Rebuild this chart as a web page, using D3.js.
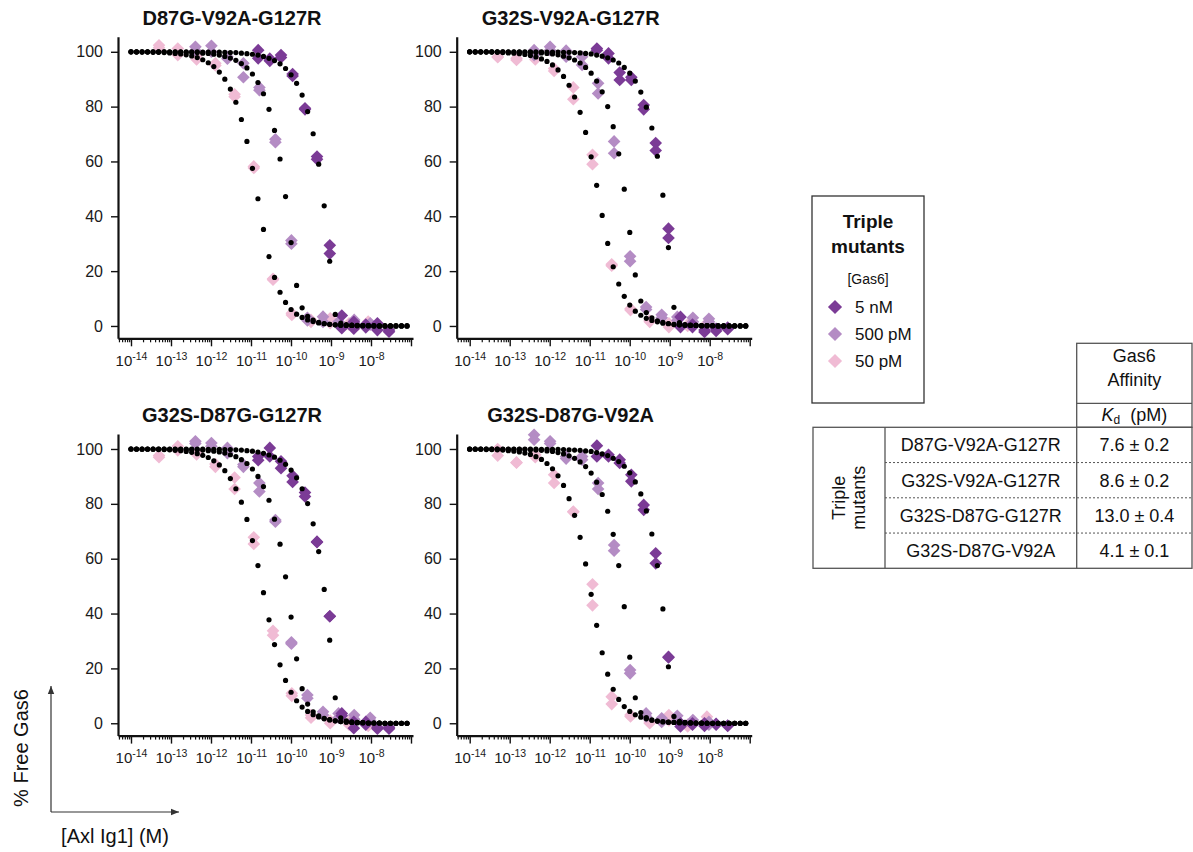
<!DOCTYPE html>
<html>
<head>
<meta charset="utf-8">
<script src="https://cdn.jsdelivr.net/npm/d3@7"></script>
<style>
  body { margin: 0; background: #fff; }
  svg { font-family: 'Liberation Sans', Arial, sans-serif; }
</style>
</head>
<body>
<svg id="chart" width="1193" height="852"></svg>
<script>
// names and table values
const mutants = ['D87G-V92A-G127R', 'G32S-V92A-G127R', 'G32S-D87G-G127R', 'G32S-D87G-V92A']
const kdValues = ['7.6 ± 0.2', '8.6 ± 0.2', '13.0 ± 0.4', '4.1 ± 0.1']
const concLabels = ['5 nM', '500 pM', '50 pM']
const concColors = ['#7b3b96', '#b48cc4', '#f0bbd4']
const xTickExps = [-14, -13, -12, -11, -10, -9, -8]
const yTicks = [0, 20, 40, 60, 80, 100]

// titration points, log10 [Axl Ig1] (M)
const xExp5nM = [-10.82, -10.53, -10.25, -9.96, -9.65, -9.35, -9.03, -8.73, -8.43, -8.13, -7.84, -7.55]
const xExp500pM = [-12.39, -11.99, -11.59, -11.19, -10.79, -10.39, -9.99, -9.59, -9.20, -8.81, -8.42, -8.02]
const xExp50pM = [-13.30, -12.83, -12.36, -11.89, -11.41, -10.93, -10.45, -9.98, -9.50, -9.02, -8.55, -8.07]

// fitted curve sample points (same x for every curve)
const fitExp = [-14, -13.862, -13.724, -13.586, -13.448, -13.31, -13.172, -13.034, -12.896, -12.758,
  -12.62, -12.482, -12.344, -12.206, -12.068, -11.93, -11.792, -11.654, -11.516, -11.378,
  -11.24, -11.102, -10.964, -10.826, -10.688, -10.55, -10.412, -10.274, -10.136, -9.998,
  -9.86, -9.722, -9.584, -9.446, -9.308, -9.17, -9.032, -8.894, -8.756, -8.618,
  -8.48, -8.342, -8.204, -8.066, -7.928, -7.79, -7.652, -7.514, -7.376, -7.238, -7.1]

// D87G-V92A-G127R
const m1Pts5nM = [[100.6, 97.6], [96.7, 97.5], [98.8, 97.9], [91.9, 91.2], [79.4, 79.0], [61.8, 60.8],
  [29.4, 26.4], [3.8, -0.8], [1.5, -1.0], [0.5, -0.5], [1.0, -1.5], [-2.1, -1.5]]
const m1Pts500pM = [[101.8, 100.5], [102.2, 100.0], [98.2, 97.5], [95.8, 90.7], [87.0, 86.0], [68.1, 67.0],
  [31.2, 30.0], [3.0, 2.0], [3.4, 1.5], [1.5, 0.5], [2.2, 1.0], [1.0, 0.5]]
const m1Pts50pM = [[102.4, 101.5], [101.2, 98.8], [97.2, 98.5], [95.8, 95.0], [84.5, 83.6], [57.6, 58.2],
  [16.9, 17.2], [4.6, 4.0], [2.2, 1.5], [2.8, 1.0], [1.0, 0.5], [1.6, 0.8]]
const m1Fit5nM = [100, 100, 100, 100, 100, 100, 100, 100, 100, 100, 100, 100, 100, 99.9, 99.9, 99.9, 99.9,
  99.8, 99.7, 99.7, 99.5, 99.3, 99.1, 98.8, 98.3, 97.6, 96.8, 95.6, 93.9, 91.6, 88.5, 84.2, 78.2, 70.1,
  59.0, 43.8, 23.6, 4.2, 1.0, 0.5, 0.3, 0.2, 0.1, 0.1, 0.1, 0, 0, 0, 0, 0, 0]
const m1Fit500pM = [100, 100, 100, 100, 100, 100, 100, 99.9, 99.9, 99.9, 99.8, 99.8, 99.7, 99.5, 99.4, 99.1,
  98.8, 98.3, 97.7, 96.9, 95.7, 94.1, 91.9, 88.8, 84.7, 79.0, 71.3, 60.9, 47.2, 30.4, 14.8, 6.6, 3.5, 2.1,
  1.3, 0.9, 0.6, 0.4, 0.3, 0.2, 0.2, 0.1, 0.1, 0.1, 0, 0, 0, 0, 0, 0, 0]
const m1Fit50pM = [100, 99.9, 99.9, 99.9, 99.8, 99.8, 99.7, 99.6, 99.4, 99.2, 98.9, 98.5, 97.9, 97.1, 96.0,
  94.6, 92.6, 90.0, 86.4, 81.6, 75.3, 67.3, 57.5, 46.4, 35.2, 25.3, 17.7, 12.3, 8.6, 6.0, 4.3, 3.1, 2.2,
  1.6, 1.1, 0.8, 0.6, 0.4, 0.3, 0.2, 0.2, 0.1, 0.1, 0.1, 0, 0, 0, 0, 0, 0, 0]

// G32S-V92A-G127R
const m2Pts5nM = [[101.2, 100.6], [99.4, 97.6], [92.4, 89.7], [90.7, 89.7], [80.6, 79.0], [66.7, 64.0],
  [35.5, 32.1], [3.3, -0.4], [-0.4, 0.5], [-2.2, -1.5], [-1.8, -1.0], [-1.2, -0.6]]
const m2Pts500pM = [[100.6, 98.8], [101.8, 100.6], [100.4, 98.2], [98.2, 95.2], [88.5, 84.8], [67.3, 63.0],
  [25.4, 23.6], [6.9, 6.0], [4.1, 3.0], [3.3, 2.0], [3.0, 1.5], [2.6, 1.5]]
const m2Pts50pM = [[98.2, 98.0], [97.6, 97.0], [99.4, 97.2], [93.9, 93.0], [87.0, 82.7], [62.4, 59.0],
  [22.5, 22.0], [6.3, 5.8], [1.5, 2.0], [1.0, -0.4], [0.5, 0.0], [1.0, 0.5]]
const m2Fit5nM = [100, 100, 100, 100, 100, 100, 100, 100, 100, 100, 100, 100, 100, 100, 99.9, 99.9, 99.9,
  99.8, 99.8, 99.7, 99.6, 99.4, 99.2, 98.8, 98.4, 97.8, 97.0, 95.9, 94.3, 92.2, 89.3, 85.3, 79.8, 72.2,
  61.9, 47.7, 28.6, 6.8, 1.2, 0.5, 0.3, 0.2, 0.1, 0.1, 0.1, 0, 0, 0, 0, 0, 0]
const m2Fit500pM = [100, 100, 100, 100, 100, 100, 100, 99.9, 99.9, 99.9, 99.8, 99.8, 99.7, 99.6, 99.4, 99.2,
  98.9, 98.4, 97.8, 97.0, 95.9, 94.3, 92.2, 89.3, 85.4, 80.0, 72.7, 62.8, 49.9, 34.1, 18.6, 9.1, 4.9, 3.0,
  1.9, 1.3, 0.9, 0.6, 0.4, 0.3, 0.2, 0.2, 0.1, 0.1, 0.1, 0, 0, 0, 0, 0, 0]
const m2Fit50pM = [100, 99.9, 99.9, 99.9, 99.9, 99.8, 99.7, 99.6, 99.5, 99.3, 99.0, 98.6, 98.1, 97.4, 96.5,
  95.2, 93.4, 91.0, 87.8, 83.5, 77.9, 70.6, 61.7, 51.3, 40.3, 30.1, 21.6, 15.3, 10.8, 7.6, 5.4, 3.9, 2.8,
  2.0, 1.5, 1.0, 0.8, 0.5, 0.4, 0.3, 0.2, 0.2, 0.1, 0.1, 0.1, 0, 0, 0, 0, 0, 0]

// G32S-D87G-G127R
const m3Pts5nM = [[97.3, 95.9], [100.4, 97.3], [95.5, 93.0], [90.2, 88.0], [84.1, 82.7], [66.2, 66.0],
  [39.0, 39.0], [3.6, 2.7], [-1.8, 0.5], [0.5, -0.5], [-1.5, -2.0], [-2.0, -1.5]]
const m3Pts500pM = [[102.8, 102.0], [102.2, 101.0], [100.4, 98.5], [94.3, 93.5], [87.6, 84.5], [74.1, 73.5],
  [29.5, 29.0], [10.3, 9.1], [4.2, 3.0], [3.6, 2.0], [3.0, 1.5], [2.0, 1.0]]
const m3Pts50pM = [[97.6, 97.0], [101.0, 99.5], [98.5, 98.0], [94.5, 93.5], [89.6, 85.4], [67.8, 65.4],
  [33.7, 32.1], [10.9, 10.0], [3.0, 2.0], [0.0, 1.0], [-0.5, 0.5], [0.5, -1.0]]
const m3Fit5nM = [100, 100, 100, 100, 100, 100, 100, 100, 100, 100, 100, 100, 100, 100, 99.9, 99.9, 99.9,
  99.8, 99.8, 99.7, 99.6, 99.4, 99.2, 98.9, 98.4, 97.8, 97.0, 95.9, 94.4, 92.3, 89.5, 85.5, 80.1, 72.7,
  62.6, 48.8, 30.3, 9.3, 2.0, 0.9, 0.5, 0.3, 0.2, 0.1, 0.1, 0.1, 0, 0, 0, 0, 0]
const m3Fit500pM = [100, 100, 100, 100, 100, 100, 100, 99.9, 99.9, 99.9, 99.8, 99.8, 99.7, 99.6, 99.4, 99.2,
  98.9, 98.5, 97.9, 97.2, 96.1, 94.7, 92.7, 90.0, 86.3, 81.3, 74.4, 65.3, 53.4, 38.7, 23.5, 12.6, 7.0, 4.2,
  2.7, 1.8, 1.3, 0.9, 0.6, 0.4, 0.3, 0.2, 0.2, 0.1, 0.1, 0.1, 0, 0, 0, 0, 0]
const m3Fit50pM = [100, 99.9, 99.9, 99.9, 99.9, 99.8, 99.8, 99.7, 99.5, 99.4, 99.1, 98.8, 98.3, 97.7, 96.9,
  95.7, 94.2, 92.1, 89.2, 85.5, 80.6, 74.3, 66.6, 57.5, 47.6, 37.7, 28.7, 21.3, 15.6, 11.3, 8.2, 5.9, 4.3,
  3.1, 2.3, 1.6, 1.2, 0.9, 0.6, 0.5, 0.3, 0.2, 0.2, 0.1, 0.1, 0.1, 0, 0, 0, 0, 0]

// G32S-D87G-V92A
const m4Pts5nM = [[101.2, 97.3], [97.9, 97.3], [96.1, 94.9], [90.6, 88.2], [79.6, 77.8], [62.0, 58.3],
  [24.2, 24.0], [0.0, -1.2], [0.0, -0.5], [0.0, -1.0], [-0.2, -0.5], [-0.8, -1.0]]
const m4Pts500pM = [[105.2, 103.4], [102.8, 102.0], [97.3, 96.5], [97.3, 96.1], [87.6, 85.4], [65.0, 62.9],
  [19.4, 18.2], [3.6, 2.5], [1.8, 0.5], [2.7, 1.0], [1.2, 0.0], [0.5, -0.5]]
const m4Pts50pM = [[100.0, 97.6], [95.1, 95.0], [97.9, 97.0], [90.6, 87.6], [77.2, 77.0], [50.7, 43.0],
  [9.7, 7.0], [3.0, 2.5], [0.0, 0.5], [3.0, 1.0], [-1.2, -0.5], [2.4, 1.0]]
const m4Fit5nM = [100, 100, 100, 100, 100, 100, 100, 100, 100, 100, 100, 100, 100, 99.9, 99.9, 99.9, 99.9,
  99.8, 99.7, 99.6, 99.5, 99.3, 99.1, 98.7, 98.2, 97.6, 96.6, 95.4, 93.7, 91.3, 88.0, 83.6, 77.4, 69.0,
  57.5, 41.7, 20.6, 2.5, 0.7, 0.3, 0.2, 0.1, 0.1, 0.1, 0, 0, 0, 0, 0, 0, 0]
const m4Fit500pM = [100, 100, 100, 100, 100, 100, 99.9, 99.9, 99.9, 99.9, 99.8, 99.7, 99.6, 99.5, 99.3, 99.1,
  98.7, 98.2, 97.5, 96.6, 95.3, 93.6, 91.2, 87.9, 83.4, 77.3, 68.9, 57.5, 42.5, 24.1, 9.3, 3.9, 2.1, 1.2,
  0.8, 0.5, 0.4, 0.3, 0.2, 0.1, 0.1, 0.1, 0, 0, 0, 0, 0, 0, 0, 0, 0]
const m4Fit50pM = [99.9, 99.9, 99.9, 99.8, 99.8, 99.7, 99.6, 99.4, 99.2, 98.9, 98.5, 98.0, 97.2, 96.2, 94.7,
  92.8, 90.2, 86.7, 81.9, 75.8, 67.8, 58.1, 47.0, 35.7, 25.7, 17.9, 12.4, 8.7, 6.1, 4.3, 3.1, 2.2, 1.6,
  1.1, 0.8, 0.6, 0.4, 0.3, 0.2, 0.2, 0.1, 0.1, 0.1, 0, 0, 0, 0, 0, 0, 0, 0]

const svg = d3.select('#chart')

const plotWidth = 295
const panels = [
  { title: mutants[0], left: 118, top: 36.7, bottom: 338.3, pts: [m1Pts5nM, m1Pts500pM, m1Pts50pM], fits: [m1Fit5nM, m1Fit500pM, m1Fit50pM] },
  { title: mutants[1], left: 456.7, top: 36.7, bottom: 338.3, pts: [m2Pts5nM, m2Pts500pM, m2Pts50pM], fits: [m2Fit5nM, m2Fit500pM, m2Fit50pM] },
  { title: mutants[2], left: 118, top: 433.9, bottom: 735.6, pts: [m3Pts5nM, m3Pts500pM, m3Pts50pM], fits: [m3Fit5nM, m3Fit500pM, m3Fit50pM] },
  { title: mutants[3], left: 456.7, top: 433.9, bottom: 735.6, pts: [m4Pts5nM, m4Pts500pM, m4Pts50pM], fits: [m4Fit5nM, m4Fit500pM, m4Fit50pM] }
]
const ptsExps = [xExp5nM, xExp500pM, xExp50pM]

panels.forEach(drawPanel)

function drawPanel(p) {
  const x = d3.scaleLog()
    .domain([Math.pow(10, -14.325), Math.pow(10, -6.95)])
    .range([p.left, p.left + plotWidth])
  const y = d3.scaleLinear()
    .domain([-4.5, 105.5])
    .range([p.bottom, p.top])

  const g = svg.append('g')

  // minor ticks
  const minorTicks = []
  d3.range(-15, -7).forEach(e => {
    d3.range(2, 10).forEach(m => {
      const v = m * Math.pow(10, e)
      if (v >= x.domain()[0] && v <= x.domain()[1]) minorTicks.push(v)
    })
  })

  g.append('g')
    .attr('transform', 'translate(0,' + p.bottom + ')')
    .call(d3.axisBottom(x).tickValues(minorTicks).tickSize(4).tickSizeOuter(0).tickFormat(''))
    .call(a => a.select('.domain').remove())
    .selectAll('line').attr('stroke', '#111').attr('stroke-width', 1.2)

  const majors = xTickExps.map(e => Math.pow(10, e)).concat([1e-7])
  const gx = g.append('g')
    .attr('transform', 'translate(0,' + p.bottom + ')')
    .call(d3.axisBottom(x).tickValues(majors).tickSize(8).tickSizeOuter(0).tickPadding(9).tickFormat(''))
  gx.select('.domain').attr('stroke', '#111').attr('stroke-width', 2.2)
  gx.selectAll('.tick line').attr('stroke', '#111').attr('stroke-width', 1.4)
  gx.selectAll('.tick text').each(function(d) {
    const e = Math.round(Math.log10(d))
    const t = d3.select(this)
    t.attr('font-size', 15).attr('fill', '#1a1a1a').attr('font-family', 'Liberation Sans, Arial, sans-serif')
    if (!xTickExps.includes(e)) return
    t.append('tspan').text('10')
    t.append('tspan').attr('dy', '-0.55em').attr('font-size', 10.5).text(e)
  })

  const gy = g.append('g')
    .attr('transform', 'translate(' + p.left + ',0)')
    .call(d3.axisLeft(y).tickValues(yTicks).tickSize(7).tickSizeOuter(0).tickPadding(8))
  gy.select('.domain').attr('stroke', '#111').attr('stroke-width', 2.2)
  gy.selectAll('.tick line').attr('stroke', '#111').attr('stroke-width', 1.4)
  gy.selectAll('.tick text')
    .attr('font-size', 16)
    .attr('fill', '#1a1a1a')
    .attr('font-family', 'Liberation Sans, Arial, sans-serif')

  // title
  g.append('text')
    .attr('x', p.left + 114)
    .attr('y', p.top - 12)
    .attr('text-anchor', 'middle')
    .attr('font-size', 20)
    .attr('font-weight', 'bold')
    .attr('fill', '#111')
    .text(p.title)

  // measured points, 50 pM first so 5 nM sits on top
  d3.range(2, -1, -1).forEach(k => {
    const flat = []
    p.pts[k].forEach((pair, i) => pair.forEach(v => flat.push({ e: ptsExps[k][i], v: v })))
    g.append('g').selectAll('path')
      .data(flat)
      .enter()
      .append('path')
      .attr('d', d3.symbol(d3.symbolSquare, 80))
      .attr('transform', d => 'translate(' + x(Math.pow(10, d.e)) + ',' + y(d.v) + ') rotate(45)')
      .attr('fill', concColors[k])
  })

  // fitted curves as black dots
  p.fits.forEach(fit => {
    g.append('g').selectAll('circle')
      .data(fit)
      .enter()
      .append('circle')
      .attr('cx', (d, i) => x(Math.pow(10, fitExp[i])))
      .attr('cy', d => y(d))
      .attr('r', 2.6)
      .attr('fill', '#000')
  })
}

// legend
const legend = svg.append('g')
legend.append('rect')
  .attr('x', 812).attr('y', 196).attr('width', 112).attr('height', 207)
  .attr('fill', 'none').attr('stroke', '#333').attr('stroke-width', 1.3)
legend.append('text').attr('x', 868).attr('y', 228).attr('text-anchor', 'middle')
  .attr('font-size', 19).attr('font-weight', 'bold').attr('fill', '#111').text('Triple')
legend.append('text').attr('x', 868).attr('y', 253).attr('text-anchor', 'middle')
  .attr('font-size', 19).attr('font-weight', 'bold').attr('fill', '#111').text('mutants')
legend.append('text').attr('x', 868).attr('y', 284).attr('text-anchor', 'middle')
  .attr('font-size', 14).attr('fill', '#111').text('[Gas6]')
concLabels.forEach((lab, i) => {
  const cy = 307 + i * 27
  legend.append('path')
    .attr('d', d3.symbol(d3.symbolSquare, 100))
    .attr('transform', 'translate(835,' + cy + ') rotate(45)')
    .attr('fill', concColors[i])
  legend.append('text').attr('x', 855).attr('y', cy + 6)
    .attr('font-size', 17).attr('fill', '#111').text(lab)
})

// table
const table = svg.append('g').attr('stroke', '#555').attr('stroke-width', 1.3)
const tx0 = 813, tx1 = 885, tx2 = 1076.7, tx3 = 1192
const headTop = 343.3, headMid = 403.3, bodyTop = 427.3, bodyBottom = 568.3
const rowH = (bodyBottom - bodyTop) / mutants.length
table.append('rect').attr('x', tx2).attr('y', headTop).attr('width', tx3 - tx2).attr('height', bodyTop - headTop).attr('fill', 'none')
table.append('line').attr('x1', tx2).attr('x2', tx3).attr('y1', headMid).attr('y2', headMid)
table.append('rect').attr('x', tx0).attr('y', bodyTop).attr('width', tx3 - tx0).attr('height', bodyBottom - bodyTop).attr('fill', 'none')
table.append('line').attr('x1', tx1).attr('x2', tx1).attr('y1', bodyTop).attr('y2', bodyBottom)
table.append('line').attr('x1', tx2).attr('x2', tx2).attr('y1', bodyTop).attr('y2', bodyBottom)
d3.range(1, mutants.length).forEach(i => {
  table.append('line')
    .attr('x1', tx1).attr('x2', tx3)
    .attr('y1', bodyTop + i * rowH).attr('y2', bodyTop + i * rowH)
    .attr('stroke-width', 1).attr('stroke-dasharray', '2,2')
})

const tableText = svg.append('g').attr('font-size', 18).attr('fill', '#111').attr('text-anchor', 'middle')
tableText.append('text').attr('x', (tx2 + tx3) / 2).attr('y', 362).text('Gas6')
tableText.append('text').attr('x', (tx2 + tx3) / 2).attr('y', 386).text('Affinity')
const kdLabel = tableText.append('text').attr('x', (tx2 + tx3) / 2).attr('y', 421)
kdLabel.append('tspan').attr('font-style', 'italic').text('K')
kdLabel.append('tspan').attr('font-size', 12).attr('dy', 3).text('d')
kdLabel.append('tspan').attr('dy', -3).text('\u00a0 (pM)')
mutants.forEach((m, i) => {
  const cy = bodyTop + (i + 0.5) * rowH
  tableText.append('text').attr('x', (tx1 + tx2) / 2).attr('y', cy).attr('dy', '0.36em').text(m)
  tableText.append('text').attr('x', (tx2 + tx3) / 2).attr('y', cy).attr('dy', '0.36em').text(kdValues[i])
})
const rowLabel = tableText.append('text')
  .attr('transform', 'translate(' + ((tx0 + tx1) / 2) + ',' + ((bodyTop + bodyBottom) / 2) + ') rotate(-90)')
rowLabel.append('tspan').attr('x', 0).attr('dy', '-0.2em').text('Triple')
rowLabel.append('tspan').attr('x', 0).attr('dy', '1.1em').text('mutants')

// axis title arrows
const defs = svg.append('defs')
defs.append('marker')
  .attr('id', 'arrow')
  .attr('viewBox', '0 0 10 10')
  .attr('refX', 10).attr('refY', 5)
  .attr('markerWidth', 7).attr('markerHeight', 7)
  .attr('orient', 'auto')
  .append('path').attr('d', 'M0,1 L10,5 L0,9 Z').attr('fill', '#333')

svg.append('line').attr('x1', 51).attr('y1', 812).attr('x2', 51).attr('y2', 686)
  .attr('stroke', '#333').attr('stroke-width', 1.2).attr('marker-end', 'url(#arrow)')
svg.append('line').attr('x1', 51).attr('y1', 812).attr('x2', 179).attr('y2', 812)
  .attr('stroke', '#333').attr('stroke-width', 1.2).attr('marker-end', 'url(#arrow)')

svg.append('text')
  .attr('transform', 'translate(28,748) rotate(-90)')
  .attr('text-anchor', 'middle')
  .attr('font-size', 20)
  .attr('fill', '#111')
  .text('% Free Gas6')
svg.append('text')
  .attr('x', 115).attr('y', 843)
  .attr('text-anchor', 'middle')
  .attr('font-size', 20)
  .attr('fill', '#111')
  .text('[Axl Ig1] (M)')
</script>
</body>
</html>
